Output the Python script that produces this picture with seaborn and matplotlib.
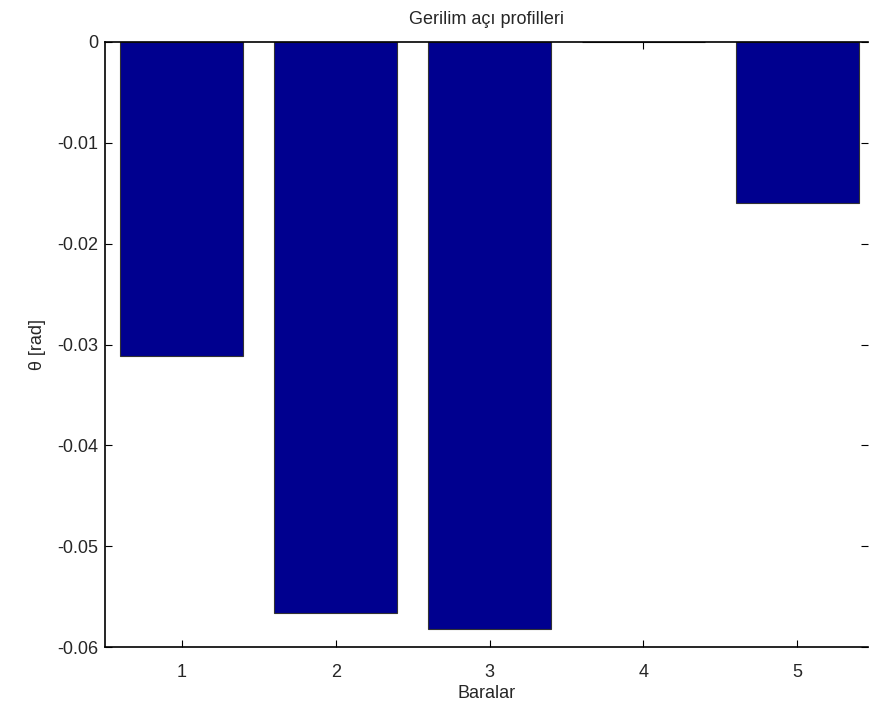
import matplotlib
matplotlib.use('Agg')
import matplotlib.pyplot as plt
import seaborn as sns
import pandas as pd

buses = [1, 2, 3, 4, 5]
angles = [-0.0311, -0.0566, -0.0582, 0.0, -0.0160]
y_ticks = [0, -0.01, -0.02, -0.03, -0.04, -0.05, -0.06]
y_tick_labels = ['0', '-0.01', '-0.02', '-0.03', '-0.04', '-0.05', '-0.06']

sns.set_style('white')
plt.rcParams['font.family'] = ['Liberation Sans', 'DejaVu Sans']

df = pd.DataFrame({'bus': buses, 'angle': angles})

fig = plt.figure(figsize=(8.7, 7.09), dpi=100)
ax = fig.add_axes([105 / 870, 1 - 647 / 709, (868 - 105) / 870, (647 - 42) / 709])

sns.barplot(data=df, x='bus', y='angle', native_scale=True, width=0.8,
            color='#00008F', saturation=1, edgecolor='#333333', linewidth=0.8, ax=ax)

ax.set_xlim(0.5, 5.46)
ax.set_ylim(-0.06, 0)
ax.set_xticks(buses)
ax.set_xticklabels([str(b) for b in buses])
ax.set_yticks(y_ticks)
ax.set_yticklabels(y_tick_labels)
ax.tick_params(direction='in', length=5, width=0.8, labelsize=13, color='black',
               top=True, right=True, bottom=True, left=True)
ax.tick_params(axis='x', pad=12)
ax.tick_params(axis='y', pad=5)
for side in ['left', 'bottom', 'top']:
    ax.spines[side].set_color('black')
    ax.spines[side].set_linewidth(1.2)
ax.spines['right'].set_visible(False)

ax.set_title('Gerilim açı profilleri', fontsize=13, pad=13)
ax.set_xlabel('Baralar', fontsize=13, labelpad=3)
ax.set_ylabel('θ [rad]', fontsize=13, labelpad=8)

fig.savefig('out.png', dpi=100)
